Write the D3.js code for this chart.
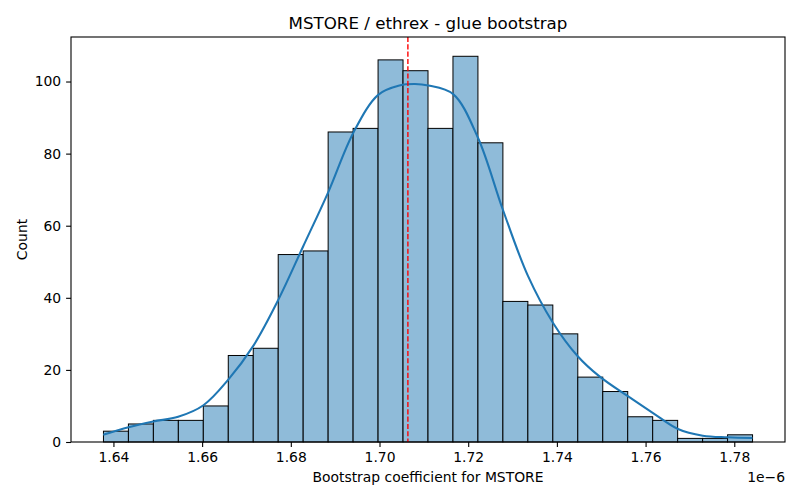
<html>
<head>
<style>
    body { margin: 0; background: #fff; }
    text { font-family: "DejaVu Sans", sans-serif; }
</style>
</head>
<body>
<svg id="chart" width="800" height="500"></svg>
<script src="https://d3js.org/d3.v7.min.js"></script>
<script>
    // values are in units of 1e-6
    let binMin = 1.63775
    let binMax = 1.78412
    let counts = [3, 5, 6, 6, 10, 24, 26, 52, 53, 86, 87, 106, 103,
                  87, 107, 83, 39, 38, 30, 18, 14, 7, 6, 1, 1, 2]
    let kdeX = [1.6377, 1.6434, 1.6490, 1.6546, 1.6603, 1.6659, 1.6715,
                1.6772, 1.6828, 1.6884, 1.6941, 1.6997, 1.7045, 1.7080, 1.7110,
                1.7166, 1.7222, 1.7278, 1.7335, 1.7391, 1.7447, 1.7496, 1.7560,
                1.7616, 1.7673, 1.7729, 1.7785, 1.7841]
    let kdeY = [2.0, 4.1, 5.7, 7.0, 10.2, 17.3, 26.6,
                39.5, 54.3, 69.2, 85.8, 96.3, 98.9, 99.3, 98.9,
                96.5, 84.4, 64.5, 46.0, 33.1, 23.8, 18.2, 12.7,
                8.1, 3.6, 1.75, 1.3, 1.1]
    let meanValue = 1.7064
    let xTicks = [1.64, 1.66, 1.68, 1.70, 1.72, 1.74, 1.76, 1.78]
    let yTicks = [0, 20, 40, 60, 80, 100]

    let svg = d3.select("#chart")
    let mLeft = 71, mRight = 785, mTop = 37, mBottom = 442

    let pad = (binMax - binMin) * 0.05
    let x = d3.scaleLinear()
        .domain([binMin - pad, binMax + pad])
        .range([mLeft, mRight])
    let y = d3.scaleLinear()
        .domain([0, d3.max(counts) * 1.05])
        .range([mBottom, mTop])

    let binWidth = (binMax - binMin) / counts.length
    let bins = counts.map((c, i) => ({
        x0: binMin + i * binWidth,
        x1: binMin + (i + 1) * binWidth,
        count: c
    }))

    // bars
    svg.append("g").selectAll("rect")
        .data(bins)
        .enter()
        .append("rect")
        .attr("x", d => x(d.x0))
        .attr("y", d => y(d.count))
        .attr("width", d => x(d.x1) - x(d.x0))
        .attr("height", d => y(0) - y(d.count))
        .attr("fill", "#8fbbd9")
        .attr("stroke", "#000")
        .attr("stroke-width", 1)

    // kde curve
    let line = d3.line()
        .x((d, i) => x(kdeX[i]))
        .y(d => y(d))
        .curve(d3.curveCatmullRom)
    svg.append("path")
        .attr("d", line(kdeY))
        .attr("fill", "none")
        .attr("stroke", "#1f77b4")
        .attr("stroke-width", 2.08)

    // mean line
    svg.append("line")
        .attr("x1", x(meanValue))
        .attr("x2", x(meanValue))
        .attr("y1", mTop)
        .attr("y2", mBottom)
        .attr("stroke", "red")
        .attr("stroke-width", 1.39)
        .attr("stroke-dasharray", "5.1,2.2")

    // axes
    let xAxis = d3.axisBottom(x)
        .tickValues(xTicks)
        .tickFormat(d => d.toFixed(2))
        .tickSizeInner(4.9)
        .tickSizeOuter(0)
        .tickPadding(4.9)
    let gx = svg.append("g")
        .attr("transform", `translate(0,${mBottom})`)
        .call(xAxis)

    let yAxis = d3.axisLeft(y)
        .tickValues(yTicks)
        .tickSizeInner(4.9)
        .tickSizeOuter(0)
        .tickPadding(4.9)
    let gy = svg.append("g")
        .attr("transform", `translate(${mLeft},0)`)
        .call(yAxis)

    for (let g of [gx, gy]) {
        g.select(".domain").remove()
        g.selectAll("line").attr("stroke", "#000").attr("stroke-width", 1.1)
        g.selectAll("text")
            .attr("fill", "#000")
            .style("font-family", "DejaVu Sans")
            .style("font-size", "13.9px")
    }

    // frame
    svg.append("rect")
        .attr("x", mLeft)
        .attr("y", mTop)
        .attr("width", mRight - mLeft)
        .attr("height", mBottom - mTop)
        .attr("fill", "none")
        .attr("stroke", "#000")
        .attr("stroke-width", 1.1)

    // texts
    svg.append("text")
        .attr("x", (mLeft + mRight) / 2)
        .attr("y", 29)
        .attr("text-anchor", "middle")
        .style("font-size", "16.7px")
        .text("MSTORE / ethrex - glue bootstrap")

    svg.append("text")
        .attr("x", (mLeft + mRight) / 2)
        .attr("y", 482)
        .attr("text-anchor", "middle")
        .style("font-size", "13.9px")
        .text("Bootstrap coefficient for MSTORE")

    svg.append("text")
        .attr("transform", `translate(27,${(mTop + mBottom) / 2}) rotate(-90)`)
        .attr("text-anchor", "middle")
        .style("font-size", "13.9px")
        .text("Count")

    svg.append("text")
        .attr("x", mRight)
        .attr("y", 482)
        .attr("text-anchor", "end")
        .style("font-size", "13.9px")
        .text("1e\u22126")
</script>
</body>
</html>
